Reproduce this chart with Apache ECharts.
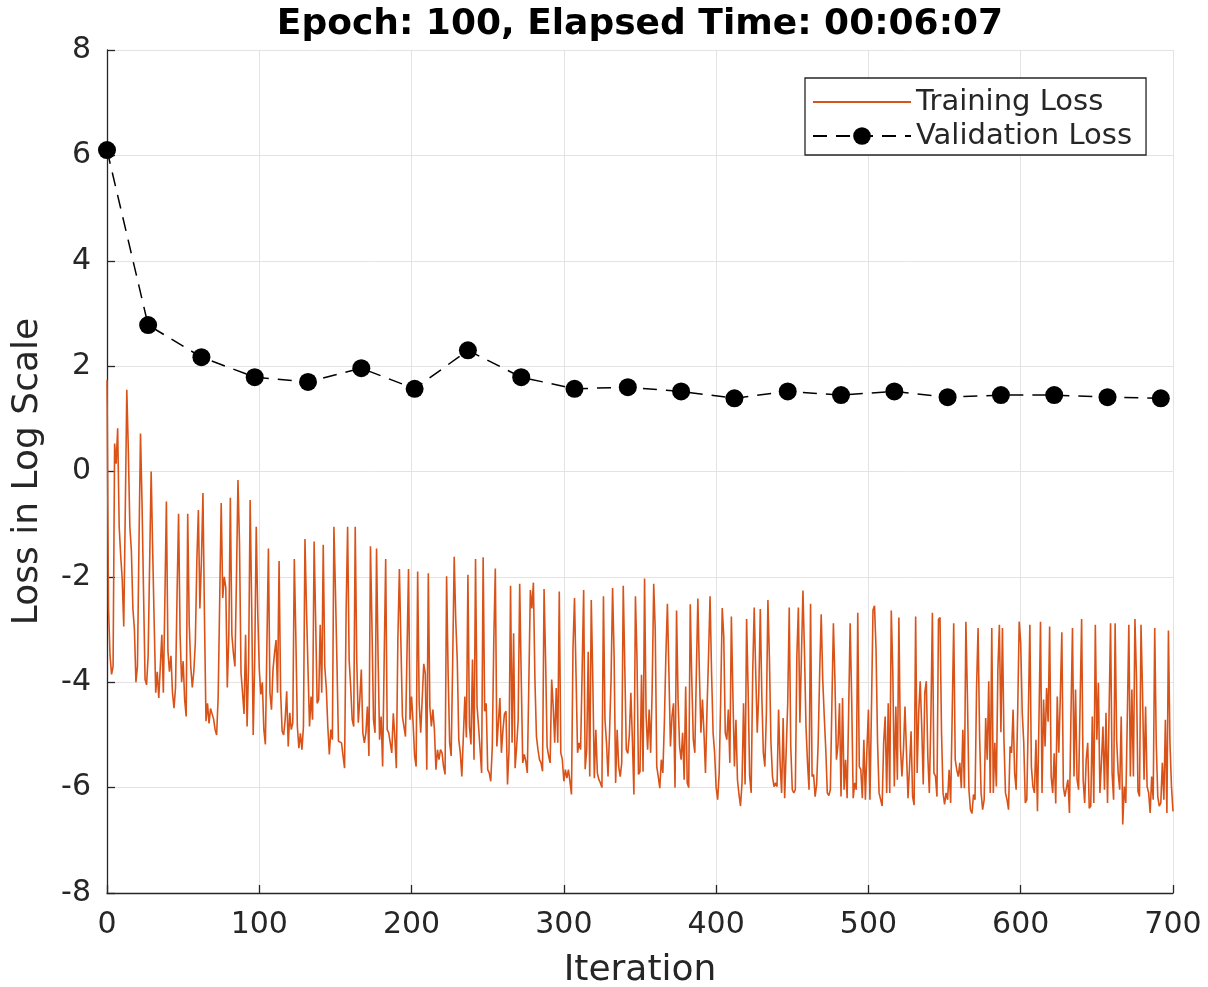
<!DOCTYPE html>
<html>
<head>
<meta charset="utf-8">
<title>Training Progress</title>
<script src="https://cdn.jsdelivr.net/npm/echarts@6/dist/echarts.min.js"></script>
<style>
  html, body { margin: 0; padding: 0; background: #ffffff; }
  #chart { width: 1208px; height: 987px; }
</style>
</head>
<body>
<div id="chart"></div>
<script>
// Training loss (log scale), one value per iteration, iteration 0 .. 700
const trainingLoss = [
  1.73, -2.60, -3.50, -3.85, -3.70, 0.53, 0.15, 0.82, -1.05, -1.60,
  -2.05, -2.94, -0.76, 1.55, 0.41, -1.05, -1.50, -2.60, -3.00, -4.00,
  -3.70, -1.36, 0.72, -0.60, -2.30, -3.95, -4.05, -3.50, -1.74, 0.00,
  -1.50, -2.90, -4.20, -3.80, -4.30, -4.33, -3.10, -4.20, -2.45, -0.57,
  -3.40, -3.80, -3.50, -4.20, -4.49, -4.10, -2.35, -0.80, -3.10, -4.00,
  -3.60, -4.33, -4.65, -0.80, -2.90, -3.70, -4.10, -3.80, -3.25, -1.70,
  -0.73, -2.60, -1.70, -0.41, -2.75, -4.74, -4.40, -4.78, -4.50, -4.60,
  -4.70, -4.90, -5.00, -4.27, -2.45, -0.60, -2.40, -2.00, -2.20, -4.10,
  -3.10, -0.50, -3.10, -3.45, -3.70, -2.05, -0.16, -1.35, -3.82, -4.20,
  -4.60, -3.10, -4.84, -3.63, -0.54, -2.56, -5.00, -3.57, -1.05, -2.69,
  -3.76, -4.23, -4.00, -4.90, -5.18, -3.30, -1.46, -4.20, -4.52, -3.76,
  -3.45, -3.20, -4.20, -1.70, -4.17, -4.93, -5.00, -4.71, -4.17, -5.22,
  -4.58, -4.90, -4.77, -1.66, -3.13, -4.84, -5.25, -4.97, -5.28, -4.84,
  -1.28, -2.62, -3.76, -4.84, -4.27, -4.71, -1.33, -2.81, -4.40, -4.33,
  -2.91, -4.20, -1.39, -3.70, -4.11, -4.84, -5.37, -4.90, -5.09, -1.05,
  -2.25, -3.63, -5.12, -5.15, -5.15, -5.40, -5.63, -2.69, -1.05, -3.57,
  -4.08, -4.71, -4.84, -1.05, -3.57, -4.77, -4.33, -3.76, -4.96, -5.15,
  -4.96, -4.46, -5.40, -1.42, -2.94, -4.71, -4.96, -1.46, -3.51, -5.09,
  -4.65, -5.60, -3.60, -1.66, -4.90, -4.96, -5.15, -5.34, -4.59, -5.03,
  -5.63, -3.19, -1.85, -3.26, -4.65, -4.84, -5.03, -3.45, -1.85, -4.71,
  -4.27, -4.77, -5.40, -5.60, -1.90, -4.40, -4.96, -4.96, -3.65, -3.83,
  -5.66, -1.93, -4.46, -4.84, -4.52, -4.90, -5.66, -5.28, -5.47, -5.28,
  -5.34, -5.60, -5.75, -1.99, -3.83, -5.15, -5.40, -3.60, -1.62, -2.82,
  -3.57, -5.09, -5.34, -5.79, -5.79, -4.27, -5.05, -1.96, -4.84, -5.18,
  -3.57, -5.47, -1.66, -4.46, -4.84, -5.28, -5.72, -1.63, -4.55, -4.40,
  -5.66, -5.72, -5.88, -5.22, -3.20, -1.84, -5.22, -5.22, -4.30, -5.34,
  -4.90, -4.60, -4.55, -5.94, -5.28, -2.17, -5.15, -3.07, -5.63, -5.22,
  -4.71, -2.13, -3.90, -5.53, -5.37, -5.50, -5.72, -4.02, -2.25, -2.60,
  -2.11, -3.95, -5.03, -5.28, -5.47, -5.53, -5.69, -2.23, -3.57, -5.22,
  -5.40, -5.53, -3.95, -4.46, -5.15, -4.11, -5.15, -2.28, -5.34, -5.47,
  -5.88, -5.66, -5.82, -5.66, -5.88, -6.13, -3.35, -2.40, -3.86, -5.34,
  -5.15, -5.28, -3.80, -2.25, -5.65, -5.28, -3.42, -5.79, -2.44, -3.95,
  -5.82, -4.90, -5.72, -5.85, -5.91, -6.00, -2.37, -4.71, -5.15, -5.79,
  -4.96, -3.95, -2.21, -3.51, -5.91, -4.90, -5.60, -5.79, -5.53, -2.17,
  -3.70, -5.28, -5.35, -5.00, -4.20, -5.09, -6.13, -2.37, -3.51, -5.75,
  -5.70, -3.86, -5.70, -2.03, -4.62, -5.28, -4.52, -5.34, -4.12, -2.13,
  -3.00, -5.60, -5.79, -6.01, -5.47, -5.72, -4.77, -3.48, -2.51, -3.83,
  -5.22, -4.65, -4.40, -6.00, -2.64, -4.33, -5.22, -5.47, -4.96, -5.85,
  -4.08, -5.91, -6.00, -2.52, -3.95, -5.09, -5.34, -3.83, -2.41, -3.83,
  -4.96, -4.33, -4.96, -5.72, -4.52, -3.51, -2.37, -3.83, -4.96, -5.34,
  -6.00, -6.23, -5.72, -4.30, -2.59, -3.13, -4.96, -5.09, -4.52, -5.53,
  -2.75, -4.24, -5.60, -4.71, -5.85, -6.13, -6.35, -5.91, -4.40, -5.94,
  -2.80, -4.14, -5.78, -6.10, -3.83, -2.58, -3.83, -4.96, -4.20, -2.61,
  -4.27, -5.34, -5.60, -4.58, -2.44, -3.57, -5.15, -5.79, -5.98, -5.91,
  -5.98, -4.52, -5.53, -6.10, -4.68, -6.20, -6.23, -4.40, -2.58, -5.22,
  -6.04, -6.10, -6.04, -3.51, -2.58, -4.77, -3.51, -2.26, -3.42, -4.84,
  -5.53, -6.04, -2.51, -5.79, -5.75, -6.17, -5.94, -5.15, -3.80, -2.71,
  -3.95, -4.65, -5.28, -6.10, -6.15, -6.04, -4.43, -2.88, -3.95, -5.47,
  -5.19, -4.40, -6.17, -4.30, -6.04, -5.47, -6.20, -4.58, -2.88, -4.33,
  -6.20, -5.91, -6.04, -2.68, -5.60, -5.66, -6.20, -5.09, -6.23, -5.28,
  -4.52, -6.23, -4.49, -2.63, -2.55, -3.38, -5.15, -6.10, -6.13, -6.35,
  -5.15, -4.65, -6.10, -4.40, -6.10, -2.64, -3.80, -5.98, -4.46, -5.85,
  -2.77, -5.22, -5.79, -5.28, -4.46, -5.34, -6.20, -5.60, -4.93, -6.17,
  -6.33, -2.75, -5.72, -4.58, -3.98, -4.84, -5.94, -4.20, -3.98, -5.41,
  -6.10, -4.71, -2.68, -5.72, -5.78, -6.17, -2.81, -2.77, -4.96, -6.10,
  -6.32, -6.10, -6.23, -5.66, -6.29, -4.62, -2.88, -5.47, -5.66, -5.79,
  -5.53, -6.01, -4.90, -6.01, -2.85, -4.27, -6.04, -6.42, -6.49, -6.13,
  -6.23, -4.11, -2.97, -5.03, -6.10, -6.42, -6.23, -4.68, -5.47, -3.98,
  -6.10, -2.97, -6.10, -5.15, -5.98, -3.76, -2.91, -4.95, -2.97, -5.09,
  -6.10, -6.23, -6.42, -5.22, -5.34, -4.52, -5.72, -6.04, -4.58, -2.85,
  -3.26, -4.58, -5.15, -6.29, -6.23, -4.62, -2.91, -5.60, -5.98, -6.10,
  -5.09, -6.45, -4.68, -2.85, -6.10, -4.33, -5.22, -4.11, -4.75, -2.94,
  -5.79, -6.10, -5.35, -6.30, -4.27, -5.34, -4.27, -3.05, -5.98, -6.17,
  -6.17, -5.85, -6.48, -4.62, -2.97, -5.79, -4.14, -5.85, -6.04, -4.40,
  -2.80, -5.85, -6.29, -5.47, -5.15, -6.39, -6.35, -4.65, -6.29, -2.91,
  -5.09, -4.01, -6.10, -5.53, -4.84, -6.04, -4.58, -6.29, -4.62, -2.88,
  -5.72, -6.23, -2.88, -5.09, -5.72, -6.04, -4.65, -6.70, -5.98, -6.29,
  -4.68, -2.91, -5.79, -4.14, -5.79, -2.80, -3.89, -6.07, -6.17, -2.91,
  -4.20, -5.85, -4.46, -5.98, -6.10, -6.48, -5.79, -6.23, -2.97, -5.15,
  -6.17, -6.35, -6.29, -5.53, -6.23, -4.71, -6.48, -3.02, -5.15, -5.98,
  -6.45
];

// Validation loss (log scale), evaluated periodically
const validationIter = [0, 27, 62, 97, 132, 167, 202, 237, 272, 307, 342,
  377, 412, 447, 482, 517, 552, 587, 622, 657, 692];
const validationLoss = [6.10, 2.78, 2.17, 1.79, 1.70, 1.96, 1.57, 2.30, 1.79, 1.57, 1.60,
  1.52, 1.39, 1.52, 1.45, 1.52, 1.41, 1.45, 1.45, 1.41, 1.39];

const titleText = 'Epoch: 100, Elapsed Time: 00:06:07';
const xAxisTitle = 'Iteration';
const yAxisTitle = 'Loss in Log Scale';
const seriesNames = ['Training Loss', 'Validation Loss'];

const FONT = 'DejaVu Sans';
const INK = '#262626';

const trainingPoints = trainingLoss.map((v, i) => [i, v]);
const validationPoints = validationIter.map((it, i) => [it, validationLoss[i]]);

const chart = echarts.init(document.getElementById('chart'), null, { renderer: 'canvas' });

chart.setOption({
  animation: false,
  backgroundColor: '#ffffff',
  textStyle: { fontFamily: FONT },
  grid: {
    left: 107, right: 35, top: 50, bottom: 94,
    containLabel: false,
    outerBoundsMode: 'none'
  },
  graphic: [{
    type: 'text',
    x: 640,
    y: 25,
    style: {
      text: titleText,
      font: 'bold 36px "DejaVu Sans"',
      fill: '#000000',
      textAlign: 'center',
      textVerticalAlign: 'middle'
    }
  }],
  legend: {
    left: 805,
    top: 78,
    orient: 'vertical',
    data: [
      // the training entry shows only its line, no marker
      { name: seriesNames[0], itemStyle: { opacity: 0 } },
      { name: seriesNames[1] }
    ],
    backgroundColor: '#ffffff',
    borderColor: INK,
    borderWidth: 1.3,
    borderRadius: 0,
    padding: [9, 14, 4, 7],
    itemGap: 4,
    itemWidth: 98,
    itemHeight: 22,
    selectedMode: false,
    textStyle: { fontFamily: FONT, fontSize: 29, color: INK, lineHeight: 30 }
  },
  xAxis: {
    type: 'value',
    min: 0, max: 700, interval: 100,
    name: xAxisTitle,
    nameLocation: 'middle',
    nameGap: 60,
    nameTextStyle: { fontFamily: FONT, fontSize: 36, color: INK },
    axisLine: { show: true, onZero: false, lineStyle: { color: INK, width: 1.3 } },
    axisTick: { show: true, inside: true, length: 8, lineStyle: { color: INK, width: 1.3 } },
    axisLabel: { fontFamily: FONT, fontSize: 30, color: INK, margin: 17 },
    splitLine: { show: true, lineStyle: { color: '#e3e3e3', width: 1 } }
  },
  yAxis: {
    type: 'value',
    min: -8, max: 8, interval: 2,
    name: yAxisTitle,
    nameLocation: 'middle',
    nameGap: 61,
    nameTextStyle: { fontFamily: FONT, fontSize: 36, color: INK },
    axisLine: { show: true, onZero: false, lineStyle: { color: INK, width: 1.3 } },
    axisTick: { show: true, inside: true, length: 8, lineStyle: { color: INK, width: 1.3 } },
    axisLabel: { fontFamily: FONT, fontSize: 30, color: INK, margin: 16 },
    splitLine: { show: true, lineStyle: { color: '#e3e3e3', width: 1 } }
  },
  series: [
    {
      name: seriesNames[0],
      type: 'line',
      data: trainingPoints,
      symbol: 'none',
      sampling: null,
      smooth: false,
      lineStyle: { color: '#D95319', width: 1.6 },
      itemStyle: { color: '#D95319' },
      z: 2
    },
    {
      name: seriesNames[1],
      type: 'line',
      data: validationPoints,
      symbol: 'circle',
      symbolSize: 18,
      showAllSymbol: true,
      lineStyle: { color: '#000000', width: 1.5, type: [14, 9] },
      itemStyle: { color: '#000000' },
      z: 3
    }
  ]
});
</script>
</body>
</html>
